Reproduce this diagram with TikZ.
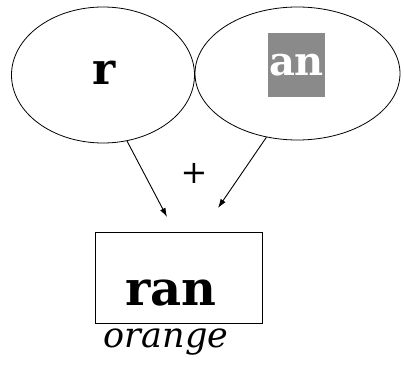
\documentclass[tikz,border=0pt]{standalone}
\usepackage{fontspec}
\setmainfont{DejaVu Serif}
\usepackage{tikz}
\usetikzlibrary{positioning,arrows.meta,shapes.geometric}
\usepackage{xcolor}
\definecolor{shade}{HTML}{8A8A8A}
\tikzset{blob/.style={ellipse,draw,line width=0.8pt,inner sep=0pt},
  wordbox/.style={draw,line width=0.8pt,inner sep=0pt,minimum width=167pt,minimum height=91pt},
  link/.style={->,line width=0.9pt}}

\begin{document}
\begin{tikzpicture}[>={Latex[length=9pt,width=6pt]}, x=1pt, y=1pt]
    \useasboundingbox(0,0)rectangle(404,367);
    \node[blob,minimum width=183pt,minimum height=136pt](lft)at(103,292){};
    \node[blob,minimum width=205pt,minimum height=133pt](rgt)at(297.5,293.5){};
    \node[anchor=base,font=\bfseries\fontsize{44}{44}\selectfont](r)at(104,282){r};
    \node[fill=shade,text=white,inner sep=0pt,minimum width=57pt,minimum height=64pt,
      font=\bfseries\fontsize{40}{40}\selectfont](an)at(296.5,302){an};
    \node[font=\fontsize{32}{32}\selectfont](plus)at(194,194){+};
    \node[wordbox](box)at(178.5,89.5){};
    \node[anchor=base,font=\bfseries\fontsize{48}{48}\selectfont](ran)at(171,62){ran};
    \node[anchor=base,font=\itshape\fontsize{35}{35}\selectfont](gloss)at(166,20){orange};
    \coordinate(tipl)at(167,150);
    \coordinate(tipr)at(218,159);
    \draw[link](lft.-70)--(tipl);
    \draw[link](rgt.-116)--(tipr);
  \end{tikzpicture}
\end{document}
